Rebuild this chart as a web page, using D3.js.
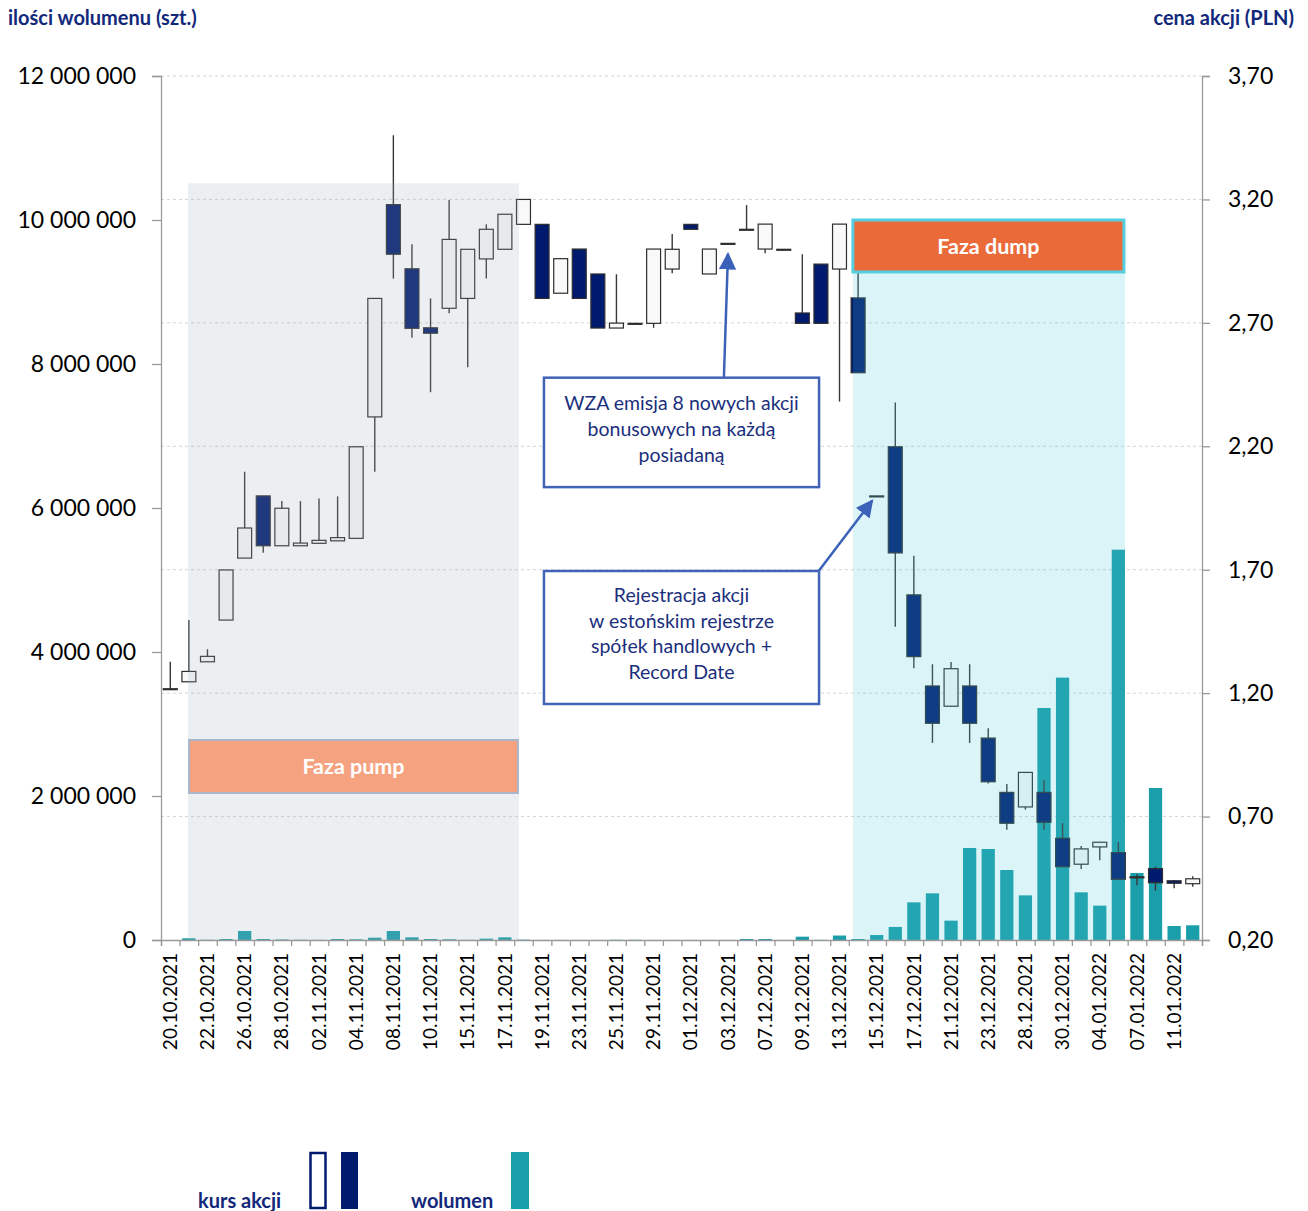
<!DOCTYPE html>
<html>
<head>
<meta charset="utf-8">
<script src="https://cdn.jsdelivr.net/npm/d3@7"></script>
<style>
    body { margin: 0; background: #fff; }
    text { font-family: Lato, "Open Sans", sans-serif; }
</style>
</head>
<body>
<div id="chart-area"></div>
<script>
// trading days
var dates = ["20.10.2021","21.10.2021","22.10.2021","25.10.2021","26.10.2021","27.10.2021","28.10.2021","29.10.2021",
    "02.11.2021","03.11.2021","04.11.2021","05.11.2021","08.11.2021","09.11.2021","10.11.2021","12.11.2021",
    "15.11.2021","16.11.2021","17.11.2021","18.11.2021","19.11.2021","22.11.2021","23.11.2021","24.11.2021",
    "25.11.2021","26.11.2021","29.11.2021","30.11.2021","01.12.2021","02.12.2021","03.12.2021","06.12.2021",
    "07.12.2021","08.12.2021","09.12.2021","10.12.2021","13.12.2021","14.12.2021","15.12.2021","16.12.2021",
    "17.12.2021","20.12.2021","21.12.2021","22.12.2021","23.12.2021","27.12.2021","28.12.2021","29.12.2021",
    "30.12.2021","03.01.2022","04.01.2022","05.01.2022","07.01.2022","10.01.2022","11.01.2022","12.01.2022"];

var open  = [1.218,1.246,1.327,1.496,1.747,1.999,1.797,1.797,1.807,1.817,1.827,2.319,3.179,2.919,2.680,2.759,
             2.799,2.959,2.998,3.099,3.099,2.820,2.999,2.898,2.679,2.698,2.698,2.918,3.099,2.898,3.022,3.079,
             2.999,2.998,2.740,2.938,2.918,2.801,1.999,2.198,1.598,1.229,1.147,1.229,1.018,0.798,0.739,0.798,
             0.612,0.507,0.577,0.554,0.456,0.489,0.440,0.428];
var high  = [1.327,1.496,1.378,1.699,2.097,1.999,1.978,1.978,1.988,1.997,2.198,2.799,3.460,3.018,2.799,3.198,
             2.998,3.099,3.140,3.200,3.099,2.960,2.999,2.898,2.897,2.698,2.999,3.060,3.099,2.999,3.022,3.177,
             3.100,2.998,2.978,2.938,3.100,2.950,1.999,2.377,1.757,1.317,1.326,1.317,1.058,0.832,0.879,0.847,
             0.673,0.581,0.596,0.597,0.466,0.497,0.443,0.458];
var low   = [1.218,1.246,1.327,1.496,1.747,1.769,1.797,1.797,1.807,1.817,1.827,2.097,2.879,2.640,2.419,2.739,
             2.520,2.880,2.998,3.099,2.799,2.820,2.799,2.679,2.679,2.698,2.680,2.901,3.079,2.898,3.022,3.079,
             2.982,2.998,2.698,2.698,2.381,2.498,1.999,1.469,1.301,0.998,1.147,0.998,0.834,0.647,0.728,0.647,
             0.497,0.488,0.523,0.446,0.422,0.400,0.410,0.416];
var close = [1.218,1.288,1.349,1.699,1.869,1.797,1.949,1.808,1.819,1.830,2.198,2.799,2.978,2.678,2.658,3.038,
             2.998,3.079,3.140,3.200,2.799,2.960,2.799,2.679,2.699,2.698,2.999,2.998,3.079,2.999,3.022,3.079,
             3.100,2.998,2.698,2.698,3.100,2.498,1.999,1.768,1.348,1.078,1.299,1.078,0.841,0.673,0.879,0.677,
             0.497,0.569,0.596,0.446,0.452,0.432,0.430,0.448];
var volume = [0,24000,3000,14000,125000,14000,7000,3000,2000,14000,10000,32000,125000,37000,14000,10000,
              2000,19000,37000,5000,1000,1000,1000,1000,3000,3000,1000,1000,1000,1000,1000,14000,
              14000,1000,46000,2000,62000,14000,69000,181000,523000,648000,269000,1278000,1264000,972000,620000,3222000,
              3644000,662000,477000,5421000,931000,2111000,194000,204000];

var volumeTicks = [0, 2000000, 4000000, 6000000, 8000000, 10000000, 12000000];
var priceTicks  = [0.20, 0.70, 1.20, 1.70, 2.20, 2.70, 3.20, 3.70];

var data = dates.map(function(d, i) {
    return { date: d, o: open[i], h: high[i], l: low[i], c: close[i], v: volume[i] };
});

var margin = { top: 76, bottom: 271, left: 161, right: 106 };
var width  = 1308 - margin.left - margin.right;
var height = 1211 - margin.top  - margin.bottom;

var navy = "#001b6e";
var teal = "#1a9ea9";
var textNavy = "#12287a";

var svg = d3.select("#chart-area")
    .append("svg")
        .attr("width", 1308)
        .attr("height", 1211);

var defs = svg.append("defs");
defs.append("marker")
    .attr("id", "arrow")
    .attr("viewBox", "0 0 10 10")
    .attr("refX", 9)
    .attr("refY", 5)
    .attr("markerWidth", 7)
    .attr("markerHeight", 7)
    .attr("markerUnits", "strokeWidth")
    .attr("orient", "auto")
    .append("path")
        .attr("d", "M0,0 L10,5 L0,10 z")
        .attr("fill", "#3b62b8");

var g = svg.append("g")
    .attr("transform", "translate(" + margin.left + ", " + margin.top + ")");

var x = d3.scaleBand()
    .domain(dates)
    .range([0, width])
    .paddingInner(0.25)
    .paddingOuter(0.125);

// fractional index position, for the shaded phases and notes
var xi = d3.scaleLinear().domain([0, dates.length]).range([0, width]);

var yV = d3.scaleLinear().domain([0, 12000000]).range([height, 0]);
var yP = d3.scaleLinear().domain([0.2, 3.7]).range([height, 0]);

// gridlines
g.append("g")
    .selectAll("line")
    .data(priceTicks.slice(1))
    .enter()
    .append("line")
        .attr("x1", 0)
        .attr("x2", width)
        .attr("y1", function(d) { return yP(d); })
        .attr("y2", function(d) { return yP(d); })
        .attr("stroke", "#d4d4d4")
        .attr("stroke-dasharray", "3,3");

// volume bars
var vw = x.bandwidth() * 0.95;
g.append("g")
    .selectAll("rect")
    .data(data)
    .enter()
    .append("rect")
        .attr("x", function(d) { return x(d.date) + (x.bandwidth() - vw) / 2; })
        .attr("y", function(d) { return yV(d.v); })
        .attr("width", vw)
        .attr("height", function(d) { return height - yV(d.v); })
        .attr("fill", teal);

// candles
var candles = g.append("g")
    .selectAll("g")
    .data(data)
    .enter()
    .append("g");

candles.append("line")
    .attr("x1", function(d) { return x(d.date) + x.bandwidth() / 2; })
    .attr("x2", function(d) { return x(d.date) + x.bandwidth() / 2; })
    .attr("y1", function(d) { return yP(d.h); })
    .attr("y2", function(d) { return yP(d.l); })
    .attr("stroke", "#383838")
    .attr("stroke-width", 1.4);

candles.append("rect")
    .attr("x", function(d) { return x(d.date); })
    .attr("y", function(d) { return yP(Math.max(d.o, d.c)); })
    .attr("width", x.bandwidth())
    .attr("height", function(d) { return Math.max(1, Math.abs(yP(d.o) - yP(d.c))); })
    .attr("fill", function(d) { return d.c < d.o ? navy : "#f9f9f9"; })
    .attr("stroke", "#2e2e2e")
    .attr("stroke-width", 1.2);

// pump / dump shading
g.append("rect")
    .attr("x", xi(1.45))
    .attr("y", yV(10510000))
    .attr("width", xi(19.26) - xi(1.45))
    .attr("height", height - yV(10510000))
    .attr("fill", "rgb(155,175,190)")
    .attr("fill-opacity", 0.2);

g.append("rect")
    .attr("x", xi(37.23))
    .attr("y", yV(10000000))
    .attr("width", xi(51.86) - xi(37.23))
    .attr("height", height - yV(10000000))
    .attr("fill", "rgb(75,200,215)")
    .attr("fill-opacity", 0.2);

// axes
var yLeftCall = d3.axisLeft(yV)
    .tickValues(volumeTicks)
    .tickSize(9)
    .tickPadding(16)
    .tickFormat(function(d) { return d3.format(",")(d).replace(/,/g, " "); });

var yl = g.append("g").attr("class", "y-axis").call(yLeftCall);

var yRightCall = d3.axisRight(yP)
    .tickValues(priceTicks)
    .tickSize(8)
    .tickPadding(18)
    .tickFormat(function(d) { return d3.format(".2f")(d).replace(".", ","); });

var yr = g.append("g")
    .attr("class", "y-axis-right")
    .attr("transform", "translate(" + width + ", 0)")
    .call(yRightCall);

var xTickCall = d3.axisBottom(xi)
    .tickValues(d3.range(dates.length + 1))
    .tickSize(6)
    .tickFormat("");

var xt = g.append("g")
    .attr("transform", "translate(0, " + height + ")")
    .call(xTickCall);

var xAxisCall = d3.axisBottom(x)
    .tickValues(dates.filter(function(d, i) { return i % 2 === 0; }))
    .tickSize(0);

var xa = g.append("g")
    .attr("class", "x-axis")
    .attr("transform", "translate(0, " + height + ")")
    .call(xAxisCall);
xa.select(".domain").remove();
xa.selectAll("text")
    .attr("x", -13)
    .attr("y", 0)
    .attr("dy", "0.35em")
    .attr("text-anchor", "end")
    .attr("transform", "rotate(-90)")
    .attr("font-size", "19px")
    .attr("font-family", "Lato")
    .attr("fill", "#000");

[yl, yr, xt].forEach(function(a) {
    a.selectAll(".domain, line").attr("stroke", "#9a9a9a").attr("stroke-width", 1.3);
});
[yl, yr].forEach(function(a) {
    a.selectAll("text").attr("font-size", "23px").attr("font-family", "Lato").attr("fill", "#000");
});

// phase labels
function phaseBox(x0, x1, v0, v1, fill, stroke, sw, label) {
    g.append("rect")
        .attr("x", xi(x0))
        .attr("y", yV(v1))
        .attr("width", xi(x1) - xi(x0))
        .attr("height", yV(v0) - yV(v1))
        .attr("fill", fill)
        .attr("stroke", stroke)
        .attr("stroke-width", sw);
    g.append("text")
        .attr("x", (xi(x0) + xi(x1)) / 2)
        .attr("y", (yV(v0) + yV(v1)) / 2)
        .attr("dy", "0.35em")
        .attr("text-anchor", "middle")
        .attr("font-size", "21.5px")
        .attr("font-weight", "bold")
        .attr("fill", "#fff")
        .text(label);
}
phaseBox(1.51, 19.2, 2042000, 2778000, "#f5a281", "#a9b6c9", 2, "Faza pump");
phaseBox(37.22, 51.8, 9278000, 10000000, "#eb6a3a", "#55cfe0", 3, "Faza dump");

// notes
function noteBox(x0, x1, v0, v1, lines, lineY) {
    g.append("rect")
        .attr("x", xi(x0))
        .attr("y", yV(v1))
        .attr("width", xi(x1) - xi(x0))
        .attr("height", yV(v0) - yV(v1))
        .attr("fill", "#fff")
        .attr("stroke", "#4163b6")
        .attr("stroke-width", 2.5);
    g.append("g")
        .selectAll("text")
        .data(lines)
        .enter()
        .append("text")
            .attr("x", (xi(x0) + xi(x1)) / 2)
            .attr("y", function(d, i) { return yV(v1) + lineY[i]; })
            .attr("dy", "0.35em")
            .attr("text-anchor", "middle")
            .attr("font-size", "19.5px")
            .attr("fill", "#1b2f7c")
            .text(function(d) { return d; });
}

g.append("line")
    .attr("x1", xi(30.28)).attr("y1", yV(7810000))
    .attr("x2", x(dates[30]) + x.bandwidth() / 2).attr("y2", yP(2.98))
    .attr("stroke", "#3b62b8").attr("stroke-width", 2.5)
    .attr("marker-end", "url(#arrow)");

g.append("line")
    .attr("x1", xi(35.38)).attr("y1", yV(5125000))
    .attr("x2", xi(38.26)).attr("y2", yP(1.98))
    .attr("stroke", "#3b62b8").attr("stroke-width", 2.5)
    .attr("marker-end", "url(#arrow)");

noteBox(20.6, 35.4, 6290000, 7810000,
    ["WZA emisja 8 nowych akcji", "bonusowych na każdą", "posiadaną"], [25, 51, 77]);
noteBox(20.6, 35.4, 3278000, 5125000,
    ["Rejestracja akcji", "w estońskim rejestrze", "spółek handlowych +", "Record Date"], [24, 50, 75, 101]);

// axis titles
svg.append("text")
    .attr("x", 8)
    .attr("y", 25)
    .attr("font-size", "20px")
    .attr("font-weight", "bold")
    .attr("fill", textNavy)
    .text("ilości wolumenu (szt.)");

svg.append("text")
    .attr("x", 1294)
    .attr("y", 25)
    .attr("text-anchor", "end")
    .attr("font-size", "20px")
    .attr("font-weight", "bold")
    .attr("fill", textNavy)
    .text("cena akcji (PLN)");

// legend
var legend = svg.append("g");
legend.append("text")
    .attr("x", 198).attr("y", 1208)
    .attr("font-size", "20px").attr("font-weight", "bold").attr("fill", textNavy)
    .text("kurs akcji");
legend.append("rect")
    .attr("x", 310.5).attr("y", 1153).attr("width", 15).attr("height", 55)
    .attr("fill", "#fff").attr("stroke", navy).attr("stroke-width", 2.5);
legend.append("rect")
    .attr("x", 341).attr("y", 1152).attr("width", 17).attr("height", 57)
    .attr("fill", navy);
legend.append("text")
    .attr("x", 411).attr("y", 1208)
    .attr("font-size", "20px").attr("font-weight", "bold").attr("fill", textNavy)
    .text("wolumen");
legend.append("rect")
    .attr("x", 511).attr("y", 1152).attr("width", 18).attr("height", 57)
    .attr("fill", teal);
</script>
</body>
</html>
